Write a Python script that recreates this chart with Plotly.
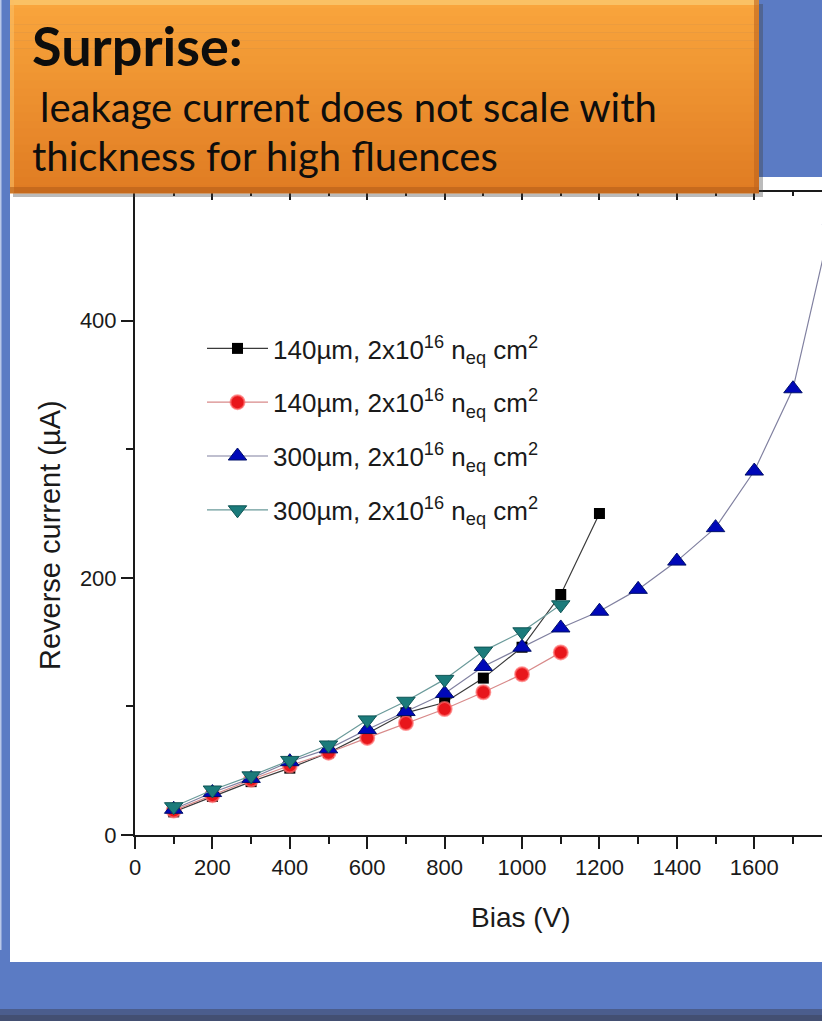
import plotly.graph_objects as go

# ---------------- data ----------------
bias_140a = [100, 200, 300, 400, 500, 600, 700, 800, 900, 1000, 1100, 1200]
curr_140a = [18, 30, 41.5, 52, 64, 79, 95, 103, 122, 146, 187, 250]

bias_140b = [100, 200, 300, 400, 500, 600, 700, 800, 900, 1000, 1100]
curr_140b = [19, 31, 43, 54, 64, 75.5, 87, 98, 111, 125, 142]

bias_300a = [100, 200, 300, 400, 500, 600, 700, 800, 900, 1000, 1100, 1200,
             1300, 1400, 1500, 1600, 1700, 1800]
curr_300a = [20, 33, 44, 57, 67, 82, 96, 110, 131, 146, 161, 174,
             191, 213, 239, 283, 347, 478]

bias_300b = [100, 200, 300, 400, 500, 600, 700, 800, 900, 1000, 1100]
curr_300b = [22, 35, 46, 58, 70, 89.5, 104, 121, 143, 158, 179]

legend_label_140 = "140µm, 2x10<sup>16</sup> n<sub>eq</sub> cm<sup>2</sup>"
legend_label_300 = "300µm, 2x10<sup>16</sup> n<sub>eq</sub> cm<sup>2</sup>"

x_title = "Bias (V)"
y_title = "Reverse current (µA)"
callout_title = "<b>Surprise:</b>"
callout_line1 = "leakage current does not scale with"
callout_line2 = "thickness for high fluences"

# ---------------- layout geometry ----------------
W, H = 822, 1021
L, R, T, B = 135, 822, 192, 835


def px_x(px):
    return (px - L) / (R - L)


def px_y(py):
    return (B - py) / (B - T)


AXFONT = "Liberation Sans, Arial, sans-serif"

fig = go.Figure()

fig.add_trace(go.Scatter(
    x=bias_140a, y=curr_140a, name=legend_label_140, legendgroup="a",
    mode="lines+markers",
    line=dict(color="#3a3a3a", width=1.2),
    marker=dict(symbol="square", size=11, color="#000000",
                line=dict(color="#000000", width=0))))
fig.add_trace(go.Scatter(
    x=bias_140b, y=curr_140b, name=legend_label_140, legendgroup="b",
    mode="lines+markers",
    line=dict(color="#d88a8a", width=1.2),
    marker=dict(symbol="circle", size=14, color="#e8161b",
                line=dict(color="rgba(255,110,110,0.7)", width=2))))
fig.add_trace(go.Scatter(
    x=bias_300a, y=curr_300a, name=legend_label_300, legendgroup="c",
    mode="lines+markers",
    line=dict(color="#8080a0", width=1.2),
    marker=dict(symbol="triangle-up", size=16, color="#0008b8",
                line=dict(color="#00106a", width=1))))
fig.add_trace(go.Scatter(
    x=bias_300b, y=curr_300b, name=legend_label_300, legendgroup="d",
    mode="lines+markers",
    line=dict(color="#6a9a9a", width=1.2),
    marker=dict(symbol="triangle-down", size=16, color="#1b7b7b",
                line=dict(color="#0f5555", width=1))))
# empty trace so that the top (mirror) axis is drawn
fig.add_trace(go.Scatter(x=[], y=[], xaxis="x2", yaxis="y", showlegend=False,
                         hoverinfo="skip"))

shapes = []
# white panel behind the chart
shapes.append(dict(type="rect", xref="paper", yref="paper", layer="below",
                   x0=px_x(10), x1=px_x(830), y0=px_y(962), y1=px_y(177),
                   fillcolor="white", line=dict(width=0)))
# left light edge
shapes.append(dict(type="rect", xref="paper", yref="paper", layer="below",
                   x0=px_x(0), x1=px_x(1.5), y0=px_y(950), y1=px_y(0),
                   fillcolor="#b9c7e8", line=dict(width=0)))
# bottom dark strip
shapes.append(dict(type="rect", xref="paper", yref="paper", layer="below",
                   x0=px_x(0), x1=px_x(830), y0=px_y(1030), y1=px_y(1009),
                   fillcolor="#4b5d8d", line=dict(width=0)))
shapes.append(dict(type="rect", xref="paper", yref="paper", layer="below",
                   x0=px_x(0), x1=px_x(830), y0=px_y(1030), y1=px_y(1015),
                   fillcolor="#434f72", line=dict(width=0)))

# orange callout: shadow
shapes.append(dict(type="rect", xref="paper", yref="paper", layer="above",
                   x0=px_x(13), x1=px_x(763), y0=px_y(197), y1=px_y(4),
                   fillcolor="rgba(60,60,60,0.35)", line=dict(width=0)))
# gradient bands
top_c = (249, 165, 60)
bot_c = (224, 124, 35)
n = 24
y_top, y_bot = 0, 193
for i in range(n):
    t = i / (n - 1)
    c = tuple(int(round(top_c[k] + (bot_c[k] - top_c[k]) * t)) for k in range(3))
    ya = y_top + (y_bot - y_top) * i / n
    yb = y_top + (y_bot - y_top) * (i + 1) / n
    shapes.append(dict(type="rect", xref="paper", yref="paper", layer="above",
                       x0=px_x(10), x1=px_x(759), y0=px_y(yb + 0.6), y1=px_y(ya),
                       fillcolor="rgb(%d,%d,%d)" % c, line=dict(width=0)))
# bevel highlights / edges
shapes.append(dict(type="rect", xref="paper", yref="paper", layer="above",
                   x0=px_x(10), x1=px_x(759), y0=px_y(5), y1=px_y(0),
                   fillcolor="rgba(250,200,110,0.8)", line=dict(width=0)))
shapes.append(dict(type="rect", xref="paper", yref="paper", layer="above",
                   x0=px_x(10), x1=px_x(14), y0=px_y(193), y1=px_y(0),
                   fillcolor="rgba(250,190,100,0.6)", line=dict(width=0)))
shapes.append(dict(type="rect", xref="paper", yref="paper", layer="above",
                   x0=px_x(10), x1=px_x(759), y0=px_y(193), y1=px_y(187),
                   fillcolor="rgba(180,95,25,0.6)", line=dict(width=0)))
shapes.append(dict(type="rect", xref="paper", yref="paper", layer="above",
                   x0=px_x(754), x1=px_x(759), y0=px_y(193), y1=px_y(0),
                   fillcolor="rgba(190,100,30,0.6)", line=dict(width=0)))

annotations = [
    dict(text=callout_title, xref="paper", yref="paper", x=px_x(30), y=px_y(45),
         xanchor="left", yanchor="middle", showarrow=False,
         font=dict(family="Lato, sans-serif", size=54, color="#0d0d0d")),
    dict(text=callout_line1, xref="paper", yref="paper", x=px_x(38), y=px_y(107),
         xanchor="left", yanchor="middle", showarrow=False,
         font=dict(family="Lato, sans-serif", size=40, color="#0d0d0d")),
    dict(text=callout_line2, xref="paper", yref="paper", x=px_x(30), y=px_y(156),
         xanchor="left", yanchor="middle", showarrow=False,
         font=dict(family="Lato, sans-serif", size=40, color="#0d0d0d")),
    # axis titles placed as in the reference
    dict(text=x_title, xref="paper", yref="paper", x=px_x(521), y=px_y(917),
         xanchor="center", yanchor="middle", showarrow=False,
         font=dict(family=AXFONT, size=28, color="#1a1a1a")),
    dict(text=y_title, xref="paper", yref="paper", x=px_x(50), y=px_y(535),
         xanchor="center", yanchor="middle", showarrow=False, textangle=-90,
         font=dict(family=AXFONT, size=29, color="#1a1a1a")),
]

axis_common = dict(showgrid=False, zeroline=False, showline=True,
                   linecolor="#1a1a1a", linewidth=2)

fig.update_layout(
    width=W, height=H,
    margin=dict(l=L, r=W - R, t=T, b=H - B, pad=0),
    paper_bgcolor="#5b7bc4",
    plot_bgcolor="white",
    font=dict(family=AXFONT, color="#1a1a1a"),
    showlegend=True,
    legend=dict(x=px_x(202), y=px_y(325), xanchor="left", yanchor="top",
                bgcolor="rgba(0,0,0,0)", borderwidth=0,
                font=dict(family=AXFONT, size=26, color="#1a1a1a"),
                itemwidth=61, traceorder="grouped", tracegroupgap=17),
    xaxis=dict(range=[0, 1775], tick0=0, dtick=200, ticks="outside",
               ticklen=12, tickwidth=2, tickcolor="#1a1a1a",
               minor=dict(dtick=100, ticks="outside", ticklen=7, tickwidth=2,
                          tickcolor="#1a1a1a"),
               tickfont=dict(size=22, family=AXFONT),
               **axis_common),
    xaxis2=dict(range=[0, 1775], overlaying="x", side="top", anchor="y",
                tick0=0, dtick=200, ticks="inside", ticklen=8, tickwidth=2,
                tickcolor="#1a1a1a", showticklabels=False, showgrid=False,
                zeroline=False, showline=True, linecolor="#1a1a1a", linewidth=2,
                minor=dict(dtick=100, ticks="inside", ticklen=4, tickwidth=2,
                           tickcolor="#1a1a1a")),
    yaxis=dict(range=[0, 500], tick0=0, dtick=200, ticks="outside",
               ticklen=12, tickwidth=2, tickcolor="#1a1a1a",
               minor=dict(dtick=100, ticks="outside", ticklen=7, tickwidth=2,
                          tickcolor="#1a1a1a"),
               tickfont=dict(size=22, family=AXFONT),
               **axis_common),
    shapes=shapes,
    annotations=annotations,
)

fig.write_html(
    "out.html",
    config={"displayModeBar": False},
    post_script="document.body.style.margin='0';document.body.style.padding='0';"
                "document.documentElement.style.overflow='hidden';",
)
